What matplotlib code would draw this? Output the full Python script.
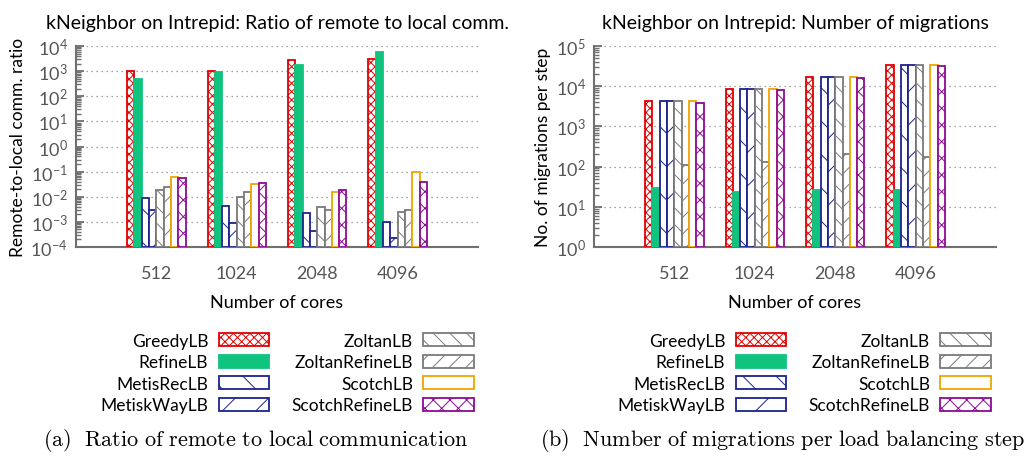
import numpy as np
import matplotlib
matplotlib.use('Agg')
import matplotlib.pyplot as plt
from matplotlib.ticker import LogLocator, LogFormatterMathtext, NullFormatter

plt.rcParams['font.family'] = ['Lato', 'DejaVu Sans']
plt.rcParams['mathtext.fontset'] = 'custom'
plt.rcParams['mathtext.rm'] = 'Lato'
plt.rcParams['mathtext.it'] = 'Lato:italic'
plt.rcParams['mathtext.bf'] = 'Lato:bold'
plt.rcParams['hatch.linewidth'] = 0.7

cores = ['512', '1024', '2048', '4096']
lb_names = ['GreedyLB', 'RefineLB', 'MetisRecLB', 'MetiskWayLB',
            'ZoltanLB', 'ZoltanRefineLB', 'ScotchLB', 'ScotchRefineLB']

# remote-to-local communication ratio
ratio_greedy = [1000, 1000, 2800, 3100]
ratio_refine = [470, 920, 1750, 5900]
ratio_metisrec = [0.0087, 0.0043, 0.0023, 0.00096]
ratio_metiskway = [0.003, 0.0009, 0.00045, 0.00022]
ratio_zoltan = [0.0185, 0.0098, 0.0039, 0.0025]
ratio_zoltanrefine = [0.025, 0.0155, 0.003, 0.0031]
ratio_scotch = [0.063, 0.0315, 0.0155, 0.10]
ratio_scotchrefine = [0.057, 0.036, 0.0186, 0.038]

# migrations per load balancing step
migr_greedy = [4250, 8600, 16800, 34000]
migr_refine = [29, 24, 25.5, 25.5]
migr_metisrec = [4250, 8600, 16800, 34000]
migr_metiskway = [4250, 8600, 16800, 34000]
migr_zoltan = [4250, 8600, 16800, 34000]
migr_zoltanrefine = [112, 128, 206, 173]
migr_scotch = [4250, 8600, 16800, 34000]
migr_scotchrefine = [3820, 8050, 16000, 32400]

ratio_series = [ratio_greedy, ratio_refine, ratio_metisrec, ratio_metiskway,
                ratio_zoltan, ratio_zoltanrefine, ratio_scotch, ratio_scotchrefine]
migr_series = [migr_greedy, migr_refine, migr_metisrec, migr_metiskway,
               migr_zoltan, migr_zoltanrefine, migr_scotch, migr_scotchrefine]

red = '#e00000'
green = '#10c47f'
blue = '#1c2290'
gray = '#7a7a7a'
yellow = '#f0a400'
purple = '#8e0a96'

# (facecolor, edgecolor, hatch) per balancer
styles = [
    ('white', red, 'xxxx'),
    (green, green, None),
    ('white', blue, '\\'),
    ('white', blue, '/'),
    ('white', gray, '\\\\'),
    ('white', gray, '//'),
    ('white', yellow, None),
    ('white', purple, 'xx'),
]

axis_gray = '#707070'

fig = plt.figure(figsize=(10.26, 4.6), dpi=100)
ax1 = fig.add_axes([76 / 1026, 1 - 248 / 460, 402 / 1026, 201 / 460])
ax2 = fig.add_axes([594 / 1026, 1 - 248 / 460, 402 / 1026, 201 / 460])

x = np.arange(len(cores))
w = 1 / 11


def draw_panel(ax, series, ylo, yhi, title, ylabel):
    for k, (vals, (fc, ec, h)) in enumerate(zip(series, styles)):
        heights = np.array(vals) - ylo
        ax.bar(x + (k - 3.5) * w, heights, width=w, bottom=ylo,
               facecolor=fc, edgecolor=ec, hatch=h, linewidth=1.3,
               label=lb_names[k], zorder=3)
    ax.set_yscale('log')
    ax.set_ylim(ylo, yhi)
    ax.set_xlim(-1, 4)
    ax.set_xticks(x)
    ax.set_xticklabels(cores)
    ax.yaxis.set_major_locator(LogLocator(base=10, numticks=20))
    ax.yaxis.set_major_formatter(LogFormatterMathtext())
    ax.yaxis.set_minor_locator(LogLocator(base=10, subs=np.arange(2, 10), numticks=20))
    ax.yaxis.set_minor_formatter(NullFormatter())
    ax.tick_params(axis='y', which='major', direction='in', length=6,
                   width=1.3, color=axis_gray, labelcolor='#555555',
                   labelsize=13, pad=6)
    ax.tick_params(axis='y', which='minor', direction='in', length=3.5,
                   width=1.0, color=axis_gray)
    ax.tick_params(axis='x', length=0, labelcolor='#555555', labelsize=13, pad=13)
    for s in ['top', 'right']:
        ax.spines[s].set_visible(False)
    for s in ['left', 'bottom']:
        ax.spines[s].set_color(axis_gray)
        ax.spines[s].set_linewidth(1.5)
    ax.grid(axis='y', which='major', linestyle=(0, (1, 3)), color='#888888',
            linewidth=0.9, zorder=0)
    ax.set_title(title, fontsize=14, pad=13)
    ax.set_ylabel(ylabel, fontsize=12.5, labelpad=3)
    ax.set_xlabel('Number of cores', fontsize=13, labelpad=9)


draw_panel(ax1, ratio_series, 1e-4, 1e4,
           'kNeighbor on Intrepid: Ratio of remote to local comm.',
           'Remote-to-local comm. ratio')
draw_panel(ax2, migr_series, 1, 1e5,
           'kNeighbor on Intrepid: Number of migrations',
           'No. of migrations per step')

# legends below each panel, labels on the left of the swatches
for ax, cx in [(ax1, 287 / 1026), (ax2, 804 / 1026)]:
    handles, labels = ax.get_legend_handles_labels()
    fig.legend(handles, labels, loc='upper center', bbox_to_anchor=(cx, 1 - 325 / 460),
               ncol=2, markerfirst=False, frameon=False, fontsize=12.5,
               handlelength=2.9, handleheight=0.75, handletextpad=0.6,
               columnspacing=1.3, labelspacing=0.32, borderpad=0)

# sub-captions
fig.text(256 / 1026, 1 - 441 / 460,
         r'$\mathrm{(a)\ \ Ratio\ of\ remote\ to\ local\ communication}$',
         ha='center', va='center', fontsize=16, math_fontfamily='cm')
fig.text(783 / 1026, 1 - 441 / 460,
         r'$\mathrm{(b)\ \ Number\ of\ migrations\ per\ load\ balancing\ step}$',
         ha='center', va='center', fontsize=16, math_fontfamily='cm')

fig.savefig('out.png', dpi=100)
